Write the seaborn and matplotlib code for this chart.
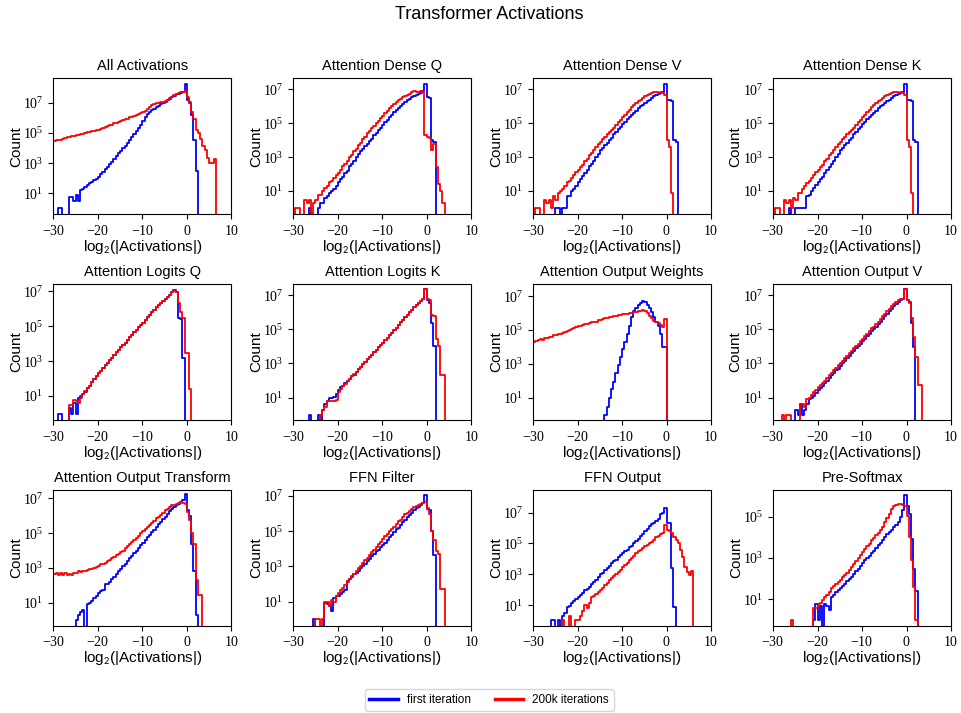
import numpy as np
import pandas as pd
import matplotlib
matplotlib.use("Agg")
import matplotlib.pyplot as plt
from matplotlib import ticker
from matplotlib.lines import Line2D
import seaborn as sns

plt.rcParams["font.family"] = ["Liberation Sans", "DejaVu Sans"]
plt.rcParams["mathtext.fontset"] = "stix"
plt.rcParams["axes.formatter.use_mathtext"] = True

# Histograms of log2|activation|, bin width 0.5.
# Each series: left edge of its first bin, then log10(count) per bin (None = empty bin).
BIN = 0.5

titles = ["All Activations", "Attention Dense Q", "Attention Dense V", "Attention Dense K",
          "Attention Logits Q", "Attention Logits K", "Attention Output Weights", "Attention Output V",
          "Attention Output Transform", "FFN Filter", "FFN Output", "Pre-Softmax"]
legend_labels = ["first iteration", "200k iterations"]

all_first_start = -29.0
all_first = [0, 0, None, None, None, 0.8, 0.8, 0.5, 0.9, 0.5,          # -29.0 .. -24.5
             1.2, 1.3, 1.45, 1.55, 1.65, 1.75, 1.85, 1.95, 2.05, 2.25,  # -24.0 .. -19.5
             2.4, 2.6, 2.75, 2.95, 3.1, 3.3, 3.5, 3.65, 3.8, 4.0,      # -19.0 .. -14.5
             4.15, 4.35, 4.5, 4.7, 4.9, 5.1, 5.35, 5.55, 5.8, 6.05,    # -14.0 .. -9.5
             6.25, 6.4, 6.5, 6.6, 6.7, 6.8, 6.9, 6.95, 7.05, 7.15,     # -9.0 .. -4.5
             7.25, 7.35, 7.45, 7.55, 7.6, 7.65, 7.7, 8.25, 7.15, 7.0,  # -4.0 .. 0.5
             6.2, 4.5, 2.5]                                            # 1.0 .. 2.0
all_later_start = -30.0
all_later = [4.45, 4.5, 4.55, 4.53, 4.6, 4.64, 4.7, 4.72, 4.78, 4.8,   # -30 .. -25.5
             4.85, 4.88, 4.93, 4.95, 5.0, 5.05, 5.08, 5.1, 5.15, 5.18, # -25 .. -20.5
             5.22, 5.28, 5.33, 5.38, 5.45, 5.5, 5.55, 5.62, 5.67, 5.72, # -20 .. -15.5
             5.78, 5.84, 5.9, 5.95, 6.02, 6.08, 6.13, 6.2, 6.25, 6.32, # -15 .. -10.5
             6.38, 6.45, 6.55, 6.7, 6.85, 6.92, 6.97, 7.0, 7.02, 7.05, # -10 .. -5.5
             7.1, 7.2, 7.3, 7.4, 7.5, 7.58, 7.63, 7.68, 7.72, 7.76,    # -5 .. -0.5
             7.35, 7.05, 6.4, 5.95, 5.2, 5.0, 4.6, 4.1, 3.9, 3.35,     # 0 .. 4.5
             3.0, 3.0, 3.25]                                           # 5 .. 6

q_first_start = -26.5
q_first = [0, None, None, None, 0, 0.2, 0.3, 0.6, 0.7, 0.9,            # -26.5 .. -22
           1.0, 1.15, 1.3, 1.5, 1.7, 1.85, 2.05, 2.2, 2.45, 2.6,       # -21.5 .. -17
           2.8, 3.0, 3.2, 3.35, 3.5, 3.65, 3.8, 3.95, 4.1, 4.3,        # -16.5 .. -12
           4.45, 4.6, 4.75, 4.9, 5.05, 5.2, 5.35, 5.5, 5.65, 5.8,      # -11.5 .. -7
           5.9, 6.05, 6.15, 6.25, 6.35, 6.45, 6.55, 6.62, 6.7, 6.75,   # -6.5 .. -2
           6.8, 6.88, 7.35, 6.55, 6.5, 4.0, 3.9]                       # -1.5 .. 1.5
q_later_start = -29.5
q_later = [0, 0, None, None, 0.5, 0.2, 0.4, None, 0.3, 0.5,            # -29.5 .. -25
           0.8, 0.8, 1.0, 1.2, 1.3, 1.5, 1.6, 1.8, 1.95, 2.05,         # -24.5 .. -20
           2.25, 2.45, 2.6, 2.8, 3.0, 3.15, 3.35, 3.5, 3.7, 3.85,      # -19.5 .. -15
           4.05, 4.2, 4.4, 4.55, 4.7, 4.85, 5.0, 5.15, 5.3, 5.45,      # -14.5 .. -10
           5.6, 5.75, 5.9, 6.0, 6.15, 6.25, 6.35, 6.45, 6.55, 6.62,    # -9.5 .. -5
           6.7, 6.75, 6.82, 6.88, 6.85, 6.82, 6.88, 6.85, 4.3, 4.2,    # -4.5 .. 0
           4.15, 3.45, 3.75, 2.4, 1.4, 1.0, 0.3]                       # 0.5 .. 3.5

v_first_start = -25.0
v_first = [0, 0, None, 0, 0, 0.7, 0.7, 1.0, 1.1, 1.3,                  # -25 .. -20.5
           1.5, 1.7, 1.9, 2.05, 2.25, 2.45, 2.6, 2.8, 3.0, 3.2,        # -20 .. -15.5
           3.4, 3.55, 3.7, 3.85, 4.0, 4.15, 4.35, 4.5, 4.65, 4.8,      # -15 .. -10.5
           4.95, 5.1, 5.25, 5.4, 5.5, 5.62, 5.75, 5.88, 6.0, 6.1,      # -10 .. -5.5
           6.2, 6.3, 6.4, 6.5, 6.6, 6.65, 6.72, 6.78, 6.85, 7.35,      # -5 .. -0.5
           6.4, 6.35, 6.3, 4.0, 3.9]                                   # 0 .. 2
v_later_start = -29.5
v_later = [0, 0, None, None, 0.5, 0.3, 0.4, 0.0, 0.7, 0.5,             # -29.5 .. -25
           0.9, 1.0, 1.1, 1.3, 1.5, 1.6, 1.8, 1.95, 2.1, 2.25,         # -24.5 .. -20
           2.4, 2.55, 2.75, 2.9, 3.1, 3.25, 3.4, 3.6, 3.75, 3.9,       # -19.5 .. -15
           4.05, 4.2, 4.35, 4.5, 4.6, 4.75, 4.9, 5.05, 5.2, 5.35,      # -14.5 .. -10
           5.5, 5.65, 5.8, 5.95, 6.08, 6.2, 6.3, 6.4, 6.5, 6.6,        # -9.5 .. -5
           6.65, 6.72, 6.78, 6.82, 6.85, 6.8, 6.85, 6.8, 6.7, 4.0,     # -4.5 .. 0
           3.6, 0.9]                                                   # 0.5 .. 1

k_first_start = -26.5
k_first = [0, None, None, 0, 0, 0, 0, 0, 0.7, 0.8,                     # -26.5 .. -22
           1.0, 1.2, 1.35, 1.5, 1.7, 1.85, 2.05, 2.25, 2.4, 2.6,       # -21.5 .. -17
           2.8, 3.0, 3.2, 3.4, 3.55, 3.7, 3.85, 4.0, 4.15, 4.35,       # -16.5 .. -12
           4.5, 4.65, 4.8, 4.95, 5.1, 5.25, 5.4, 5.5, 5.62, 5.75,      # -11.5 .. -7
           5.88, 6.0, 6.1, 6.2, 6.3, 6.4, 6.5, 6.6, 6.65, 6.72,        # -6.5 .. -2
           6.78, 6.85, 7.35, 6.4, 6.35, 6.3, 4.0, 3.9]                 # -1.5 .. 2
k_later_start = -29.5
k_later = [0, 0, None, None, 0.5, 0.2, 0.4, 0.0, 0.6, 0.5,             # -29.5 .. -25
           0.9, 0.9, 1.1, 1.3, 1.45, 1.6, 1.8, 1.95, 2.1, 2.25,        # -24.5 .. -20
           2.4, 2.55, 2.75, 2.9, 3.1, 3.25, 3.4, 3.6, 3.75, 3.9,       # -19.5 .. -15
           4.05, 4.2, 4.35, 4.5, 4.6, 4.75, 4.9, 5.05, 5.2, 5.35,      # -14.5 .. -10
           5.5, 5.65, 5.8, 5.95, 6.08, 6.2, 6.3, 6.4, 6.5, 6.6,        # -9.5 .. -5
           6.65, 6.72, 6.78, 6.82, 6.85, 6.8, 6.85, 6.8, 6.7, 4.0,     # -4.5 .. 0
           3.6, 0.9]                                                   # 0.5 .. 1

lq_first_start = -29.0
lq_first = [0, 0, None, None, None, 0.2, 0.0, 0.6, 0.0, 0.9,           # -29 .. -24.5
            1.0, 1.1, 1.25, 1.45, 1.6, 1.8, 1.95, 2.15, 2.3, 2.45,     # -24 .. -19.5
            2.6, 2.75, 2.9, 3.05, 3.2, 3.35, 3.5, 3.65, 3.8, 3.9,      # -19 .. -14.5
            4.05, 4.2, 4.35, 4.5, 4.65, 4.8, 4.95, 5.05, 5.2, 5.35,    # -14 .. -9.5
            5.5, 5.65, 5.8, 5.95, 6.1, 6.2, 6.35, 6.45, 6.55, 6.65,    # -9 .. -4.5
            6.8, 6.95, 7.05, 6.95, 5.45, 5.4, 3.2]                     # -4 .. -1
lq_later_start = -26.5
lq_later = [0.5, 0.5, 0.8, 0.7, 0.6, 0.9, 1.1, 1.3, 1.45, 1.6,         # -26.5 .. -22
            1.8, 1.95, 2.15, 2.3, 2.45, 2.6, 2.75, 2.9, 3.05, 3.2,     # -21.5 .. -17
            3.35, 3.5, 3.65, 3.8, 3.92, 4.05, 4.2, 4.35, 4.5, 4.65,    # -16.5 .. -12
            4.8, 4.95, 5.08, 5.2, 5.35, 5.5, 5.65, 5.8, 5.95, 6.1,     # -11.5 .. -7
            6.22, 6.35, 6.45, 6.55, 6.68, 6.8, 6.95, 7.0, 6.95, 6.3,   # -6.5 .. -2
            5.8, 5.45, 3.45, 3.45, 1.4]                                # -1.5 .. 0.5

lk_first_start = -26.5
lk_first = [0, None, None, None, 0, None, 0.3, 0.6, 0.8, 0.95,         # -26.5 .. -22
            1.0, 1.05, 1.2, 1.45, 1.6, 1.7, 1.85, 1.95, 2.1, 2.25,     # -21.5 .. -17
            2.35, 2.5, 2.65, 2.8, 2.95, 3.1, 3.25, 3.35, 3.5, 3.65,    # -16.5 .. -12
            3.8, 3.95, 4.1, 4.2, 4.35, 4.5, 4.65, 4.8, 4.95, 5.1,      # -11.5 .. -7
            5.25, 5.4, 5.55, 5.7, 5.85, 6.0, 6.15, 6.3, 6.45, 6.55,    # -6.5 .. -2
            6.65, 6.75, 7.35, 6.7, 6.55, 5.35, 4.0]                    # -1.5 .. 1.5
lk_later_start = -24.0
lk_later = [0, 0.3, 0.5, 0.75, 0.8, 0.75, 0.8, 0.85, 1.35, 1.5,        # -24 .. -19.5
            1.65, 1.8, 1.95, 2.1, 2.25, 2.4, 2.5, 2.65, 2.8, 2.95,     # -19 .. -14.5
            3.1, 3.25, 3.35, 3.5, 3.65, 3.8, 3.95, 4.1, 4.2, 4.35,     # -14 .. -9.5
            4.5, 4.65, 4.8, 4.95, 5.1, 5.25, 5.4, 5.55, 5.7, 5.85,     # -9 .. -4.5
            6.0, 6.15, 6.3, 6.45, 6.55, 6.65, 6.75, 7.35, 6.75, 6.7,   # -4 .. 0.5
            5.85, 5.8, 4.45, 4.0, 2.3, 2.3]                            # 1 .. 3.5

ow_first_start = -14.0
ow_first = [0.1, 0.45, 1.0, 1.5, 1.95, 2.45, 2.95, 3.4, 3.85, 4.3,     # -14 .. -9.5
            4.75, 5.25, 5.75, 6.1, 6.3, 6.5, 6.6, 6.7, 6.68, 6.5,      # -9 .. -4.5
            6.3, 6.05, 5.75, 5.5, 5.25, 4.75, 4.0, 4.0]                # -4 .. -0.5
ow_later_start = -30.0
ow_later = [4.3, 4.36, 4.4, 4.45, 4.43, 4.5, 4.55, 4.6, 4.6, 4.68,     # -30 .. -25.5
            4.72, 4.78, 4.78, 4.85, 4.9, 4.95, 5.0, 5.05, 5.1, 5.15,   # -25 .. -20.5
            5.22, 5.24, 5.3, 5.35, 5.36, 5.42, 5.45, 5.5, 5.5, 5.58,   # -20 .. -15.5
            5.6, 5.65, 5.7, 5.7, 5.75, 5.78, 5.82, 5.84, 5.87, 5.9,    # -15 .. -10.5
            5.92, 5.95, 5.95, 6.0, 6.02, 6.05, 6.04, 6.1, 6.12, 6.2,   # -10 .. -5.5
            6.15, 6.0, 5.85, 5.7, 5.55, 5.45, 5.4, 5.3, 5.2, 5.65]     # -5 .. -0.5

ov_first_start = -25.0
ov_first = [0.3, 0, 0.55, 0, 0.2, 0.6, 0.9, 0.95, 1.1, 1.25,           # -25 .. -20.5
            1.45, 1.55, 1.7, 1.85, 2.0, 2.15, 2.3, 2.45, 2.6, 2.7,     # -20 .. -15.5
            2.85, 3.0, 3.15, 3.3, 3.45, 3.6, 3.75, 3.9, 4.0, 4.15,     # -15 .. -10.5
            4.3, 4.45, 4.6, 4.75, 4.9, 5.0, 5.15, 5.3, 5.45, 5.6,      # -10 .. -5.5
            5.75, 5.9, 6.05, 6.2, 6.35, 6.5, 6.6, 6.7, 6.8, 7.35,      # -5 .. -0.5
            6.7, 6.6, 5.35, 3.98]                                      # 0 .. 1.5
ov_later_start = -28.0
ov_later = [0, None, 0, 0, None, None, None, None, 0.55, 0.6,          # -28 .. -23.5
            0.5, 0.9, 1.0, 1.15, 1.3, 1.45, 1.6, 1.72, 1.85, 2.0,      # -23 .. -18.5
            2.15, 2.3, 2.45, 2.6, 2.75, 2.88, 3.0, 3.15, 3.3, 3.45,    # -18 .. -13.5
            3.6, 3.75, 3.9, 4.05, 4.15, 4.3, 4.45, 4.6, 4.75, 4.9,     # -13 .. -8.5
            5.05, 5.15, 5.3, 5.45, 5.6, 5.75, 5.9, 6.05, 6.2, 6.35,    # -8 .. -3.5
            6.5, 6.6, 6.7, 6.75, 6.8, 7.35, 6.7, 6.55, 5.65, 4.55,     # -3 .. 1.5
            3.4, 1.75, 1.75]                                           # 2 .. 3

ot_first_start = -25.0
ot_first = [0.0, 0.3, 0.5, 0.55, None, 0.95, 1.0, 1.1, 1.3, 1.4,       # -25 .. -20.5
            1.55, 1.65, 1.75, 2.05, 2.1, 2.2, 2.35, 2.5, 2.65, 2.8,    # -20 .. -15.5
            2.95, 3.1, 3.25, 3.4, 3.55, 3.7, 3.85, 4.0, 4.15, 4.3,     # -15 .. -10.5
            4.45, 4.6, 4.75, 4.9, 5.05, 5.2, 5.35, 5.5, 5.65, 5.8,     # -10 .. -5.5
            5.95, 6.1, 6.25, 6.4, 6.5, 6.6, 6.7, 6.8, 6.9, 7.25,       # -5 .. -0.5
            6.35, 6.0, 4.4, 2.8, 0.3]                                  # 0 .. 2
ot_later_start = -30.0
ot_later = [2.65, 2.7, 2.6, 2.68, 2.62, 2.7, 2.6, 2.65, 2.6, 2.68,     # -30 .. -25.5
            2.72, 2.8, 2.75, 2.85, 2.8, 2.9, 2.95, 2.92, 3.0, 3.05,    # -25 .. -20.5
            3.1, 3.2, 3.25, 3.3, 3.4, 3.48, 3.55, 3.65, 3.72, 3.8,     # -20 .. -15.5
            3.9, 4.0, 4.12, 4.25, 4.35, 4.48, 4.6, 4.72, 4.85, 4.98,   # -15 .. -10.5
            5.1, 5.22, 5.35, 5.48, 5.6, 5.72, 5.85, 5.95, 6.05, 6.15,  # -10 .. -5.5
            6.3, 6.4, 6.5, 6.6, 6.62, 6.7, 6.72, 6.78, 6.72, 6.65,     # -5 .. -0.5
            6.2, 5.75, 5.0, 4.35, 2.3, 1.45, 1.45]                     # 0 .. 3

ff_first_start = -25.5
ff_first = [0, None, None, None, None, 0.9, 0.85, 0.8, 0.45, 1.2,      # -25.5 .. -21
            1.3, 1.35, 1.45, 1.55, 1.65, 2.2, 2.3, 2.4, 2.55, 2.65,    # -20.5 .. -16
            2.75, 2.9, 3.0, 3.15, 3.3, 3.45, 3.6, 3.7, 3.85, 3.95,     # -15.5 .. -11
            4.1, 4.2, 4.35, 4.5, 4.65, 4.8, 4.95, 5.1, 5.2, 5.35,      # -10.5 .. -6
            5.5, 5.65, 5.8, 5.92, 6.05, 6.2, 6.3, 6.4, 6.5, 6.6,       # -5.5 .. -1
            7.05, 6.25, 6.2, 5.0, 3.65]                                # -0.5 .. 1.5
ff_later_start = -25.0
ff_later = [0, 0, None, 0, 1.0, 1.0, 0.8, 1.1, 1.0, 1.3,               # -25 .. -20.5
            1.5, 1.65, 1.8, 1.95, 2.1, 2.3, 2.45, 2.6, 2.75, 2.9,      # -20 .. -15.5
            3.05, 3.2, 3.35, 3.5, 3.65, 3.8, 3.95, 4.1, 4.25, 4.4,     # -15 .. -10.5
            4.55, 4.7, 4.85, 5.0, 5.12, 5.25, 5.4, 5.55, 5.65, 5.8,    # -10 .. -5.5
            5.95, 6.05, 6.15, 6.25, 6.35, 6.45, 6.5, 6.55, 6.62, 6.68, # -5 .. -0.5
            6.3, 6.0, 5.0, 4.5, 3.85, 3.7, 1.75, 1.75]                 # 0 .. 3.5

fo_first_start = -26.0
fo_first = [0, 0, None, 0, None, 0.25, 0.4, 0.9, 0.95, 1.1,            # -26 .. -21.5
            1.25, 1.4, 1.55, 1.65, 1.8, 1.95, 2.05, 2.2, 2.35, 2.5,    # -21 .. -16.5
            2.65, 2.85, 3.0, 3.1, 3.25, 3.4, 3.55, 3.7, 3.85, 3.95,    # -16 .. -11.5
            4.1, 4.25, 4.35, 4.5, 4.6, 4.75, 4.85, 5.0, 5.15, 5.3,     # -11 .. -6.5
            5.45, 5.6, 5.8, 5.95, 6.1, 6.25, 6.35, 6.45, 6.6, 6.9,     # -6 .. -1.5
            6.95, 7.28, 6.35, 6.3, 3.4, 0.9]                           # -1 .. 1.5
fo_later_start = -23.5
fo_later = [0, None, None, 0.3, None, None, 0, 0.1, 0.3, 0.6,          # -23.5 .. -19
            1.0, 0.8, 1.1, 1.5, 1.6, 1.7, 1.85, 2.0, 2.1, 2.3,         # -18.5 .. -14
            2.45, 2.6, 2.75, 2.9, 3.0, 3.15, 3.3, 3.45, 3.6, 3.75,     # -13.5 .. -9
            3.9, 4.05, 4.2, 4.35, 4.5, 4.6, 4.7, 4.8, 4.92, 5.0,       # -8.5 .. -4
            5.1, 5.25, 5.4, 5.5, 5.6, 5.7, 6.2, 5.9, 5.8, 5.66,        # -3.5 .. 1
            5.44, 5.2, 5.0, 4.58, 4.14, 3.5, 3.17, 2.95, 3.2]          # 1.5 .. 5.5

ps_first_start = -21.0
ps_first = [0, 0.75, 0.0, 0.7, None, 0.8, 0.7, 0.45, 1.1, 1.2,         # -21 .. -16.5
            1.35, 1.45, 1.55, 1.65, 1.75, 1.9, 2.0, 2.1, 2.25, 2.35,   # -16 .. -11.5
            2.45, 2.6, 2.75, 2.9, 3.0, 3.1, 3.25, 3.35, 3.5, 3.65,     # -11 .. -6.5
            3.75, 3.85, 4.0, 4.15, 4.25, 4.35, 4.5, 4.6, 4.75, 5.0,    # -6 .. -1.5
            5.3, 6.05, 5.5, 5.15, 3.9, 2.45, 1.4]                      # -1 .. 2
ps_later_start = -26.0
ps_later = [0, None, None, None, None, None, None, None, None, None,   # -26 .. -21.5
            0.55, 0.55, 0.75, 0.85, 0.95, 1.1, 1.2, 1.35, 1.55, 1.65,  # -21 .. -16.5
            1.75, 1.85, 1.95, 2.1, 2.2, 2.3, 2.4, 2.55, 2.7, 2.85,     # -16 .. -11.5
            3.0, 3.15, 3.3, 3.45, 3.6, 3.7, 3.85, 3.95, 4.1, 4.2,      # -11 .. -6.5
            4.35, 4.5, 4.75, 4.95, 5.15, 5.35, 5.5, 5.55, 5.6, 5.6,    # -6 .. -1.5
            5.58, 5.5, 5.05, 4.0, 2.9, 1.6, 0.0]                       # -1 .. 2

first_series = [(all_first_start, all_first), (q_first_start, q_first), (v_first_start, v_first),
                (k_first_start, k_first), (lq_first_start, lq_first), (lk_first_start, lk_first),
                (ow_first_start, ow_first), (ov_first_start, ov_first), (ot_first_start, ot_first),
                (ff_first_start, ff_first), (fo_first_start, fo_first), (ps_first_start, ps_first)]
later_series = [(all_later_start, all_later), (q_later_start, q_later), (v_later_start, v_later),
                (k_later_start, k_later), (lq_later_start, lq_later), (lk_later_start, lk_later),
                (ow_later_start, ow_later), (ov_later_start, ov_later), (ot_later_start, ot_later),
                (ff_later_start, ff_later), (fo_later_start, fo_later), (ps_later_start, ps_later)]

# y-range of each panel, as powers of ten
y_range = [(-0.38, 8.6), (-0.37, 7.65), (-0.37, 7.65), (-0.37, 7.65),
           (-0.37, 7.4), (-0.31, 7.64), (-0.32, 7.71), (-0.31, 7.64),
           (-0.32, 7.48), (-0.36, 7.34), (-0.34, 8.47), (-0.27, 6.29)]

BLUE = "#0000ff"
RED = "#ff0000"
TICK_FONT = "Liberation Serif"


def to_frame(start, log_counts):
    """Bin edges plus a frame of bin centres and counts, padded with an empty bin each side."""
    n = len(log_counts)
    edges = start + BIN * np.arange(-1, n + 2)
    counts = [0] + [0 if v is None else int(round(10 ** v)) for v in log_counts] + [0]
    frame = pd.DataFrame({"log2_abs": edges[:-1] + BIN / 2,
                          "count": np.asarray(counts, dtype=float)})
    return [float(e) for e in edges], frame


fig, axes = plt.subplots(3, 4, figsize=(9.61, 7.13), dpi=100)
fig.subplots_adjust(left=0.0555, right=0.9896, top=0.890, bottom=0.1224,
                    wspace=0.348, hspace=0.515)

for ax, title, first, later, (ylo, yhi) in zip(axes.flat, titles, first_series,
                                               later_series, y_range):
    for (start, vals), color in ((first, BLUE), (later, RED)):
        edges, frame = to_frame(start, vals)
        sns.histplot(data=frame, x="log2_abs", weights="count", bins=edges,
                     element="step", fill=False, color=color, linewidth=1.3, ax=ax)
    ax.set_yscale("log", nonpositive="clip")
    ax.set_xlim(-30, 10)
    ax.set_ylim(10 ** ylo, 10 ** yhi)
    ax.set_xticks([-30, -20, -10, 0, 10])
    ax.yaxis.set_major_locator(ticker.FixedLocator([1e1, 1e3, 1e5, 1e7]))
    ax.yaxis.set_major_formatter(ticker.LogFormatterSciNotation())
    ax.yaxis.set_minor_locator(ticker.NullLocator())
    ax.tick_params(labelsize=10)
    for lab in ax.get_xticklabels() + ax.get_yticklabels():
        lab.set_fontfamily(TICK_FONT)
    ax.set_title(title, fontsize=10.5)
    ax.set_xlabel(r"log$_\mathsf{2}$(|Activations|)", fontsize=11, labelpad=0)
    ax.set_ylabel("Count", fontsize=11, labelpad=0)

fig.suptitle("Transformer Activations", fontsize=13, x=0.509, y=0.992)

handles = [Line2D([], [], color=BLUE, lw=2.5), Line2D([], [], color=RED, lw=2.5)]
fig.legend(handles, legend_labels, loc="lower center", bbox_to_anchor=(0.509, 0.0),
           ncol=2, fontsize=8.5, frameon=True, handlelength=2.4, columnspacing=2.0,
           borderaxespad=0.2)

fig.savefig("out.png", dpi=100)
